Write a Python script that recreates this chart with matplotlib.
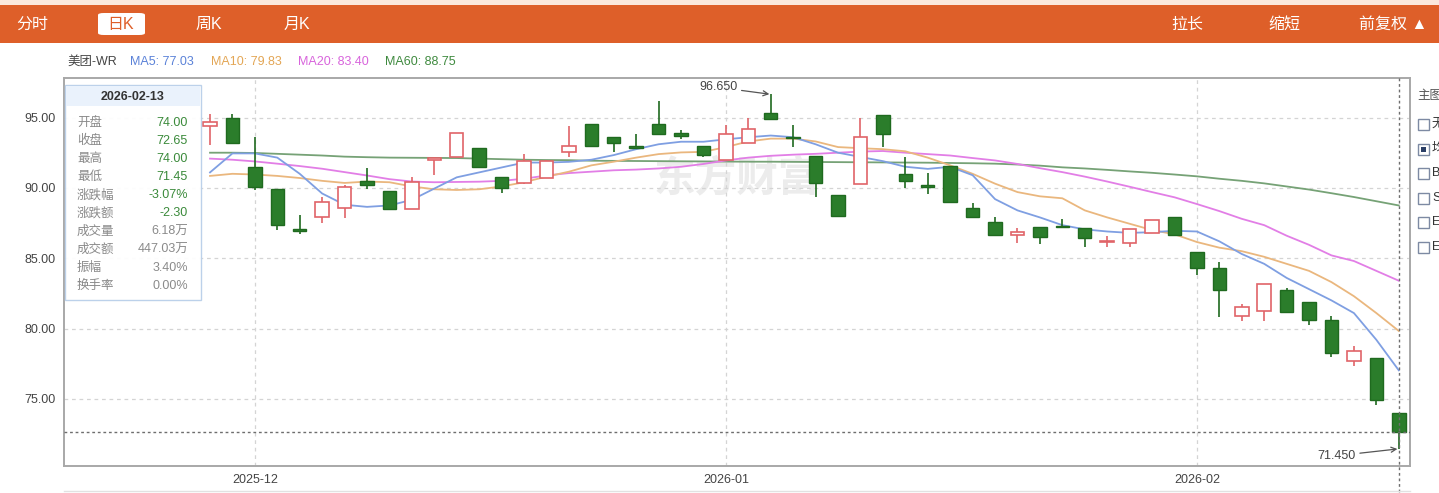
import matplotlib
matplotlib.use("Agg")
import numpy as np
import pandas as pd
from matplotlib import pyplot as plt
from matplotlib.patches import Rectangle, FancyBboxPatch
from matplotlib import transforms

plt.rcParams['font.family'] = ['Liberation Sans', 'Noto Sans CJK SC', 'DejaVu Sans']

W, H = 1439, 493

# trading days shown (HK calendar, Christmas / New Year closed)
dates = pd.bdate_range('2025-11-27', '2026-02-13', freq='C',
                       holidays=['2025-12-25', '2025-12-26', '2026-01-01'])

opens = [94.40, 95.00, 91.50, 89.90, 87.05, 87.95, 88.60, 90.50, 89.80, 88.50,
         92.00, 92.17, 92.80, 90.75, 90.33, 90.72, 92.53, 94.52, 93.60, 92.95,
         94.52, 93.88, 93.00, 91.98, 93.20, 95.30, 93.60, 92.26, 89.50, 90.25,
         95.18, 91.00, 90.20, 91.55, 88.59, 87.60, 86.65, 87.24, 87.30, 87.12,
         86.17, 86.06, 86.77, 87.95, 85.46, 84.28, 80.90, 81.25, 82.74, 81.90,
         80.60, 77.71, 77.90, 74.00]
closes = [94.68, 93.20, 90.07, 87.36, 86.95, 89.00, 90.04, 90.20, 88.50, 90.40,
          92.10, 93.88, 91.46, 89.97, 91.93, 91.93, 93.00, 92.95, 93.20, 92.86,
          93.85, 93.68, 92.34, 93.80, 94.20, 94.87, 93.52, 90.32, 88.00, 93.64,
          93.83, 90.47, 90.08, 88.97, 87.90, 86.65, 86.84, 86.53, 87.20, 86.46,
          86.24, 87.08, 87.72, 86.65, 84.28, 82.74, 81.55, 83.14, 81.16, 80.60,
          78.28, 78.42, 74.95, 72.65]
highs = [95.25, 95.25, 93.60, 89.95, 88.10, 89.35, 90.20, 91.40, 89.80, 90.80,
         92.20, 93.90, 92.80, 90.75, 92.40, 92.00, 94.42, 94.52, 93.60, 93.80,
         96.17, 94.10, 93.00, 94.50, 95.00, 96.65, 94.50, 92.26, 89.50, 94.94,
         95.18, 92.17, 91.08, 91.55, 88.94, 87.90, 87.17, 87.24, 87.77, 87.12,
         86.58, 87.08, 87.72, 87.95, 85.46, 84.75, 81.75, 83.14, 82.86, 81.90,
         80.90, 78.76, 77.90, 74.00]
lows = [93.05, 93.10, 89.85, 87.00, 86.70, 87.50, 87.86, 89.90, 88.50, 88.50,
        90.90, 92.17, 91.46, 89.60, 90.30, 90.70, 92.20, 92.95, 92.57, 92.86,
        93.85, 93.50, 92.20, 91.98, 93.20, 94.87, 92.90, 89.37, 88.00, 90.25,
        92.93, 89.97, 89.56, 88.97, 87.90, 86.65, 86.10, 86.00, 87.20, 85.82,
        85.82, 85.82, 86.77, 86.65, 83.80, 80.80, 80.56, 80.56, 81.16, 80.25,
        77.96, 77.34, 74.60, 71.45]

ma5 = [91.10, 92.45, 92.45, 92.15, 91.00, 89.60, 88.80, 88.65, 88.75, 89.15,
       89.95, 90.75, 91.10, 91.45, 91.80, 91.80, 91.85, 92.00, 92.33, 92.75,
       93.10, 93.28, 93.28, 93.45, 93.60, 93.72, 93.60, 93.10, 92.50, 92.20,
       91.90, 91.50, 91.35, 91.50, 90.90, 89.20, 88.40, 87.90, 87.35, 87.05,
       86.90, 86.80, 86.85, 86.95, 86.90, 86.20, 85.30, 84.60, 83.60, 82.80,
       82.00, 81.10, 79.20, 77.03]
ma10 = [90.85, 91.00, 90.95, 90.85, 90.70, 90.50, 90.35, 90.45, 90.40, 90.10,
        89.90, 89.85, 89.90, 90.10, 90.40, 90.80, 91.15, 91.60, 91.86, 92.15,
        92.40, 92.52, 92.56, 92.90, 93.30, 93.50, 93.50, 93.30, 92.90, 92.82,
        92.75, 92.60, 92.15, 91.60, 91.00, 90.30, 89.70, 89.40, 89.26, 88.40,
        87.90, 87.45, 87.00, 86.70, 86.15, 85.75, 85.50, 85.10, 84.60, 84.10,
        83.30, 82.30, 81.10, 79.83]
ma20 = [92.08, 92.00, 91.88, 91.72, 91.55, 91.36, 91.12, 90.88, 90.62, 90.45,
        90.40, 90.42, 90.44, 90.50, 90.65, 90.88, 91.05, 91.15, 91.25, 91.30,
        91.38, 91.50, 91.70, 91.95, 92.15, 92.28, 92.36, 92.42, 92.50, 92.58,
        92.62, 92.50, 92.40, 92.30, 92.12, 91.95, 91.70, 91.40, 91.12, 90.80,
        90.45, 90.08, 89.70, 89.33, 88.85, 88.35, 87.80, 87.35, 86.60, 85.95,
        85.20, 84.80, 84.10, 83.40]
ma60 = [92.50, 92.50, 92.48, 92.42, 92.36, 92.30, 92.22, 92.18, 92.15, 92.14,
        92.13, 92.12, 92.08, 92.04, 92.00, 91.98, 91.97, 91.93, 91.92, 91.91,
        91.90, 91.89, 91.88, 91.87, 91.86, 91.86, 91.85, 91.84, 91.83, 91.82,
        91.81, 91.80, 91.79, 91.77, 91.75, 91.72, 91.66, 91.58, 91.46, 91.38,
        91.28, 91.17, 91.07, 90.95, 90.82, 90.65, 90.50, 90.32, 90.10, 89.88,
        89.62, 89.35, 89.05, 88.75]

info_labels = ['开盘', '收盘', '最高', '最低', '涨跌幅', '涨跌额', '成交量', '成交额', '振幅', '换手率']
info_values = ['74.00', '72.65', '74.00', '71.45', '-3.07%', '-2.30', '6.18万', '447.03万', '3.40%', '0.00%']
y_ticks = [75, 80, 85, 90, 95]

UP = '#e06468'
DOWN_FACE = '#2b7d2b'
DOWN_EDGE = '#1f6a1f'
MA_COLORS = ['#7f9fe2', '#eab77e', '#e27ee6', '#76a276']
MA_TEXT = ['#5b82d8', '#e3a655', '#d864dc', '#3f8a3f']


def fx(px):
    return px / W


def fy(py):
    return 1 - py / H


fig = plt.figure(figsize=(W / 100, H / 100), dpi=100)
fig.patch.set_facecolor('white')

# orange top bar
fig.patches.append(Rectangle((0, fy(5)), 1, fy(0) - fy(5), transform=fig.transFigure,
                             facecolor='#fbe8dc', edgecolor='none'))
fig.patches.append(Rectangle((0, fy(43)), 1, fy(5) - fy(43), transform=fig.transFigure,
                             facecolor='#de5f29', edgecolor='none'))
fig.patches.append(FancyBboxPatch((fx(98), fy(35)), fx(47), fy(13) - fy(35),
                                  boxstyle='round,pad=0,rounding_size=0.004',
                                  transform=fig.transFigure, facecolor='white', edgecolor='none'))
bar_y = fy(24)
for label, px, col in [('分时', 32, 'white'), ('日K', 121, '#de5f29'), ('周K', 209, 'white'),
                       ('月K', 297, 'white'), ('拉长', 1187, 'white'), ('缩短', 1284, 'white'),
                       ('前复权 ▲', 1393, 'white')]:
    fig.text(fx(px), bar_y, label, color=col, fontsize=11.5, ha='center', va='center')

# legend line
leg = [('美团-WR', '#444444', 67), ('MA5: 77.03', MA_TEXT[0], 130), ('MA10: 79.83', MA_TEXT[1], 211),
       ('MA20: 83.40', MA_TEXT[2], 298), ('MA60: 88.75', MA_TEXT[3], 385)]
for txt, col, px in leg:
    fig.text(fx(px), fy(62), txt, color=col, fontsize=9, ha='left', va='center')

ax = fig.add_axes([fx(64), fy(466), fx(1410) - fx(64), fy(78) - fy(466)])
x = np.arange(len(dates))

ax.set_xlim(-6.51, 53.5)
ax.set_ylim(70.23, 97.81)

# watermark
ax.text(0.50, 0.74, '东方财富', transform=ax.transAxes, fontsize=30, fontweight='bold',
        color='#ececec', ha='center', va='center', zorder=0.5, style='italic')

for yv in y_ticks:
    ax.axhline(yv, color='#d4d4d4', lw=0.9, ls=(0, (3, 3)), zorder=1)

month_idx = [i for i in range(len(dates)) if i == 0 or dates[i].month != dates[i - 1].month][1:]
for i in month_idx:
    ax.axvline(i, color='#d4d4d4', lw=0.9, ls=(0, (3, 3)), zorder=1)

# moving averages
for ma, col in zip([ma60, ma20, ma10, ma5], [MA_COLORS[3], MA_COLORS[2], MA_COLORS[1], MA_COLORS[0]]):
    ax.plot(x, ma, color=col, lw=1.3, zorder=2.5)

# candles
for i in range(len(x)):
    o, c, h, l = opens[i], closes[i], highs[i], lows[i]
    up = c >= o
    bottom = min(o, c)
    height = max(abs(c - o), 0.07)
    if up:
        ax.vlines(x[i], l, h, color=UP, lw=1.2, zorder=3)
        ax.bar(x[i], height, 0.6, bottom=bottom, facecolor='white', edgecolor=UP, lw=1.2, zorder=4)
    else:
        ax.vlines(x[i], l, h, color=DOWN_EDGE, lw=1.2, zorder=3)
        ax.bar(x[i], height, 0.6, bottom=bottom, facecolor=DOWN_FACE, edgecolor=DOWN_EDGE, lw=1.0, zorder=4)

# crosshair
last = len(x) - 1
ax.axhline(closes[last], color='#6e6e6e', lw=1.0, ls=(0, (2, 2)), zorder=5)
trans = transforms.blended_transform_factory(ax.transData, ax.transAxes)
ax.plot([x[last], x[last]], [1.0, -0.08], transform=trans, color='#6e6e6e', lw=1.0,
        ls=(0, (2, 2)), clip_on=False, zorder=5)

# max / min annotations
imax = int(np.argmax(highs))
imin = int(np.argmin(lows))
ax.annotate('%.3f' % highs[imax], xy=(x[imax], highs[imax]), xytext=(-24, 5),
            textcoords='offset points', ha='right', va='center', fontsize=9, color='#444444',
            arrowprops=dict(arrowstyle='->', color='#555555', lw=0.9, shrinkA=1, shrinkB=1))
ax.annotate('%.3f' % lows[imin], xy=(x[imin], lows[imin]), xytext=(-31, -5),
            textcoords='offset points', ha='right', va='center', fontsize=9, color='#444444',
            arrowprops=dict(arrowstyle='->', color='#555555', lw=0.9, shrinkA=1, shrinkB=1))

ax.set_yticks(y_ticks)
ax.set_yticklabels(['%.2f' % v for v in y_ticks])
ax.set_xticks(month_idx)
ax.set_xticklabels([dates[i].strftime('%Y-%m') for i in month_idx])
ax.tick_params(length=0, labelsize=9, colors='#444444', pad=6)
for s in ax.spines.values():
    s.set_color('#a8a8a8')
    s.set_linewidth(1.4)

# info box
fig.patches.append(Rectangle((fx(65), fy(300)), fx(136), fy(85) - fy(300), transform=fig.transFigure,
                             facecolor='white', edgecolor='#b9cfe9', lw=1.0, alpha=0.95, zorder=10))
fig.patches.append(Rectangle((fx(66), fy(106)), fx(134), fy(86) - fy(106), transform=fig.transFigure,
                             facecolor='#eaf2fc', edgecolor='none', zorder=10))
fig.text(fx(133), fy(97), dates[last].strftime('%Y-%m-%d'), fontsize=9, fontweight='bold',
         color='#333333', ha='center', va='center', zorder=11)
for k, (lab, val) in enumerate(zip(info_labels, info_values)):
    yy = fy(123 + k * 18.1)
    vcol = '#3a8a3a' if k < 6 else '#8a8a8a'
    fig.text(fx(77), yy, lab, fontsize=9, color='#8a8a8a', ha='left', va='center', zorder=11)
    fig.text(fx(188), yy, val, fontsize=9, color=vcol, ha='right', va='center', zorder=11)

# right side selector
fig.text(fx(1417), fy(96), '主图', fontsize=9, color='#555555', ha='left', va='center')
for k, name in enumerate(['无', '均线', 'BOLL', 'SAR', 'ENE', 'EXPMA']):
    cy = 124 + k * 24.6
    fig.patches.append(Rectangle((fx(1418), fy(cy + 6)), fx(11), fy(cy - 5) - fy(cy + 6),
                                 transform=fig.transFigure, facecolor='white',
                                 edgecolor='#7d8aa3', lw=1.0))
    if k == 1:
        fig.patches.append(Rectangle((fx(1421), fy(cy + 3)), fx(5), fy(cy - 2) - fy(cy + 3),
                                     transform=fig.transFigure, facecolor='#2b3f66', edgecolor='none'))
    fig.text(fx(1432), fy(cy), name, fontsize=9, color='#333333', ha='left', va='center')

# bottom rule
fig.add_artist(plt.Line2D([fx(64), fx(1410)], [fy(491), fy(491)], color='#e2e2e2', lw=1.0))

fig.savefig('out.png', dpi=100)
